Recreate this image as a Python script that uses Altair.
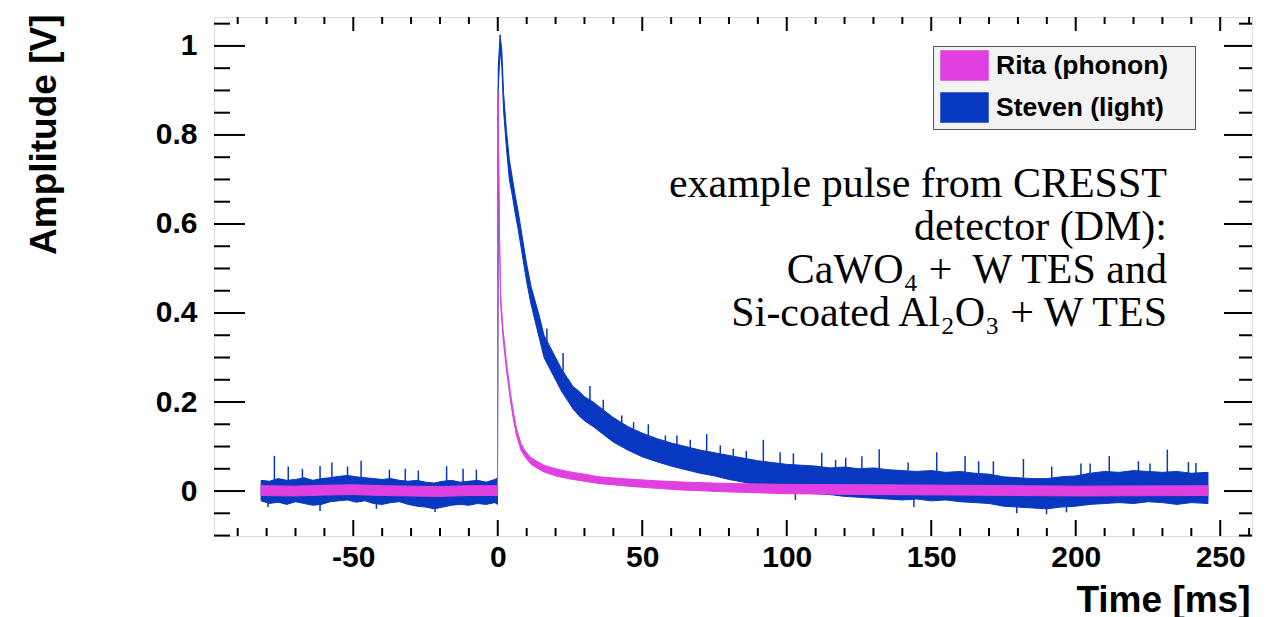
import altair as alt
import pandas as pd

# ---------------- data ----------------
series_names = ["Rita (phonon)", "Steven (light)"]
series_colors = ["#e040e0", "#0838c0"]

# Steven (light): noise envelope (lower / upper) vs time [ms]
steven_t = [-81.9, -79, -76, -73, -70, -67, -64, -61, -58, -55, -52, -49, -46, -43, -40,
            -37, -34, -31, -28, -25, -22, -19, -16, -13, -10, -7, -4, -1, -0.1,
            0.15, 0.8, 1.4, 2.0, 3.0, 4.0, 5.0, 6.0, 7.0, 8.5, 10.0, 11.5, 13.0, 14.5,
            16.0, 18.0, 20.0, 22.0, 24.0, 26.0, 28.0, 30.0, 33.0, 36.0, 40.0, 45.0,
            50.0, 55.0, 60.0, 65.0, 70.0, 75.0, 80.0, 85.0, 90.0, 95.0, 100, 105, 110,
            115, 120, 125, 130, 135, 140, 145, 150, 155, 160, 165, 170, 175, 180, 185,
            190, 195, 200, 205, 210, 215, 220, 225, 230, 235, 240, 245.76]
steven_lo = [-0.022, -0.028, -0.025, -0.03, -0.024, -0.028, -0.032, -0.03, -0.024, -0.022,
             -0.02, -0.025, -0.022, -0.028, -0.03, -0.026, -0.024, -0.03, -0.034, -0.036,
             -0.04, -0.036, -0.032, -0.03, -0.032, -0.028, -0.03, -0.026, -0.03,
             0.90, 0.99, 0.955, 0.855, 0.77, 0.70, 0.665, 0.625, 0.59, 0.53, 0.47, 0.42,
             0.38, 0.34, 0.30, 0.275, 0.25, 0.225, 0.205, 0.185, 0.17, 0.158, 0.145,
             0.13, 0.11, 0.092, 0.077, 0.066, 0.056, 0.048, 0.04, 0.034, 0.026, 0.02,
             0.014, 0.008, 0.0, -0.004, -0.006, -0.008, -0.012, -0.014, -0.016, -0.018,
             -0.02, -0.018, -0.022, -0.02, -0.024, -0.026, -0.028, -0.034, -0.036,
             -0.038, -0.04, -0.036, -0.034, -0.03, -0.028, -0.026, -0.028, -0.024,
             -0.026, -0.03, -0.026, -0.028]
steven_hi = [0.024, 0.022, 0.028, 0.024, 0.026, 0.03, 0.024, 0.028, 0.03, 0.033, 0.035,
             0.032, 0.03, 0.028, 0.026, 0.028, 0.024, 0.022, 0.024, 0.02, 0.018, 0.022,
             0.024, 0.02, 0.022, 0.024, 0.02, 0.026, 0.03,
             0.95, 1.025, 0.99, 0.895, 0.81, 0.745, 0.705, 0.665, 0.63, 0.57, 0.51, 0.46,
             0.425, 0.39, 0.35, 0.325, 0.30, 0.275, 0.255, 0.235, 0.225, 0.212, 0.20,
             0.185, 0.165, 0.145, 0.13, 0.118, 0.108, 0.10, 0.092, 0.086, 0.08, 0.074,
             0.068, 0.064, 0.06, 0.058, 0.056, 0.052, 0.054, 0.05, 0.052, 0.048, 0.046,
             0.044, 0.046, 0.042, 0.044, 0.04, 0.038, 0.032, 0.03, 0.028, 0.028, 0.032,
             0.034, 0.04, 0.044, 0.042, 0.046, 0.044, 0.042, 0.044, 0.04, 0.042]

# Steven (light): single noise spikes (time, lower end, upper end)
spike_t = [-77.3, -72.5, -67.6, -61.5, -57.4, -52.0, -47.3, -37.5, -32.0, -27.5, -17.7,
           -12.0, -7.4, 17.0, 22.6, 31.9, 36.5, 42.9, 47.0, 52.1, 58.0, 62.0, 66.6, 72.3,
           77.0, 81.5, 86.0, 91.9, 97.7, 102.3, 112.1, 116.9, 120.4, 126.0, 132.0, 142.0,
           151.9, 161.7, 166.4, 171.5, 181.9, 191.7, 201.8, 205.0, 211.6, 221.7, 225.7,
           231.7, 239.0, 241.6,
           -79.5, -61.5, -42.0, -21.7, 103.0, 144.0, 179.6, 189.9, 196.8]
spike_lo = [0.02, 0.022, 0.025, 0.025, 0.028, 0.03, 0.03, 0.026, 0.022, 0.022, 0.02,
            0.018, 0.022, 0.33, 0.27, 0.20, 0.18, 0.15, 0.14, 0.125, 0.11, 0.104, 0.096,
            0.09, 0.084, 0.078, 0.072, 0.066, 0.062, 0.058, 0.054, 0.052, 0.054, 0.05, 0.05,
            0.046, 0.044, 0.042, 0.04, 0.036, 0.03, 0.028, 0.036, 0.04, 0.044, 0.045, 0.044,
            0.042, 0.04, 0.04,
            -0.036, -0.045, -0.04, -0.047, -0.02, -0.036, -0.05, -0.052, -0.048]
spike_hi = [0.079, 0.055, 0.05, 0.056, 0.064, 0.055, 0.068, 0.048, 0.05, 0.046, 0.056,
            0.05, 0.048, 0.365, 0.31, 0.236, 0.205, 0.17, 0.155, 0.15, 0.125, 0.125, 0.115,
            0.128, 0.103, 0.095, 0.09, 0.115, 0.087, 0.085, 0.086, 0.07, 0.075, 0.078, 0.094,
            0.064, 0.087, 0.079, 0.067, 0.067, 0.072, 0.055, 0.062, 0.062, 0.079, 0.067, 0.062,
            0.093, 0.065, 0.063,
            -0.026, -0.028, -0.026, -0.038, 0.0, -0.018, -0.034, -0.038, -0.035]

# Rita (phonon): noise envelope
rita_t = [-81.9, -70, -60, -50, -40, -30, -20, -10, -0.1, 0.05, 0.3, 0.6, 1.0, 1.8, 3.0,
          4.5, 5.5, 6.5, 8.0, 9.5, 11.5, 13.5, 16.0, 20.0, 25.0, 30.0, 35.0, 45.0, 55.0,
          65.0, 80.0, 100, 130, 160, 200, 245.76]
rita_lo = [-0.01, -0.011, -0.009, -0.008, -0.01, -0.011, -0.012, -0.01, -0.01, 0.885, 0.74,
           0.56, 0.42, 0.345, 0.272, 0.198, 0.158, 0.125, 0.092, 0.076, 0.06, 0.052, 0.043,
           0.034, 0.027, 0.022, 0.017, 0.011, 0.006, 0.002, -0.002, -0.006, -0.008, -0.009,
           -0.011, -0.01]
rita_hi = [0.012, 0.011, 0.013, 0.014, 0.012, 0.011, 0.01, 0.012, 0.012, 0.90, 0.76, 0.58,
           0.44, 0.365, 0.29, 0.215, 0.175, 0.14, 0.107, 0.09, 0.075, 0.067, 0.058, 0.05,
           0.043, 0.038, 0.032, 0.027, 0.023, 0.02, 0.017, 0.015, 0.014, 0.013, 0.011, 0.012]

x_major = [-50, 0, 50, 100, 150, 200, 250]
x_minor = [-90, -80, -70, -60, -40, -30, -20, -10, 10, 20, 30, 40, 60, 70, 80, 90, 110, 120,
           130, 140, 160, 170, 180, 190, 210, 220, 230, 240, 260]
y_major = [0, 0.2, 0.4, 0.6, 0.8, 1.0]
y_minor = [-0.1, -0.05, 0.05, 0.1, 0.15, 0.25, 0.3, 0.35, 0.45, 0.5, 0.55, 0.65, 0.7, 0.75,
           0.85, 0.9, 0.95, 1.05]

annotation = ["example pulse from CRESST", "detector (DM):", "CaWO\u2084 +\u00a0 W TES and",
              "Si-coated Al\u2082O\u2083 + W TES"]

# ---------------- chart ----------------
W, H = 1038, 519
xs = alt.Scale(domain=[-98.2, 261], nice=False, zero=False)
ys = alt.Scale(domain=[-0.101, 1.065], nice=False, zero=False)
cs = alt.Scale(domain=series_names, range=series_colors)

df_s = pd.DataFrame({"t": steven_t, "lo": steven_lo, "hi": steven_hi, "series": series_names[1]})
df_r = pd.DataFrame({"t": rita_t, "lo": rita_lo, "hi": rita_hi, "series": series_names[0]})
df_sp = pd.DataFrame({"t": spike_t, "lo": spike_lo, "hi": spike_hi, "series": series_names[1]})

SANS = "Liberation Sans"

legend = alt.Legend(
    title=None, orient="none", legendX=719, legendY=29,
    fillColor="#f2f2f2", strokeColor="#555555", padding=4,
    symbolType="M-1.62,-1H1.62V1H-1.62Z", symbolSize=841, symbolOffset=12,
    symbolStrokeColor="#333333", symbolStrokeWidth=1.5, symbolOpacity=1,
    labelFont=SANS, labelFontSize=26.5, labelFontWeight="bold", labelColor="black",
    labelOffset=16, rowPadding=7, labelLimit=400,
    labelExpr="datum.label + '\u00a0\u00a0\u00a0\u200b'",
)

xaxis = alt.Axis(
    values=x_major, ticks=False, domain=False, grid=False,
    labelFont=SANS, labelFontSize=30, labelFontWeight="bold", labelColor="black",
    labelPadding=6, labelExpr="'' + datum.value", labelFlush=False,
    title="Time [ms]", titleFont=SANS, titleFontSize=37, titleFontWeight="bold",
    titleColor="black", titleX=W - 2, titleY=75, titleAlign="right",
    titleBaseline="alphabetic", titleAnchor="end",
)
yaxis = alt.Axis(
    values=y_major, ticks=False, domain=False, grid=False,
    labelFont=SANS, labelFontSize=30, labelFontWeight="bold", labelColor="black",
    labelPadding=17, format="~g", labelFlush=False,
    title="Amplitude [V]", titleFont=SANS, titleFontSize=37, titleFontWeight="bold",
    titleColor="black", titleAngle=270, titleX=-159, titleY=-3, titleAlign="right",
    titleBaseline="alphabetic", titleAnchor="end",
)

X = lambda f: alt.X(f, scale=xs, axis=xaxis)
Y = lambda f: alt.Y(f, scale=ys, axis=yaxis)

steven = alt.Chart(df_s).mark_area(clip=True, strokeWidth=1, opacity=1).encode(
    x=X("t:Q"), y=Y("lo:Q"), y2="hi:Q",
    color=alt.Color("series:N", scale=cs, legend=legend),
    stroke=alt.Stroke("series:N", scale=cs, legend=None),
)
spikes = alt.Chart(df_sp).mark_rule(clip=True, strokeWidth=1.5).encode(
    x=X("t:Q"), y=Y("lo:Q"), y2="hi:Q",
    color=alt.Color("series:N", scale=cs, legend=legend),
)
rita = alt.Chart(df_r).mark_area(clip=True, strokeWidth=1, opacity=1).encode(
    x=X("t:Q"), y=Y("lo:Q"), y2="hi:Q",
    color=alt.Color("series:N", scale=cs, legend=legend),
    stroke=alt.Stroke("series:N", scale=cs, legend=None),
)

def xticks(vals, top_len, bot_len):
    d = pd.DataFrame({"v": vals})
    base = alt.Chart(d).mark_rule(color="black", strokeWidth=2)
    b = base.encode(x=X("v:Q"), y=alt.value(H), y2=alt.value(H - bot_len))
    t = base.encode(x=X("v:Q"), y=alt.value(0), y2=alt.value(top_len))
    return [b, t]

def yticks(vals, left_len, right_len):
    d = pd.DataFrame({"v": vals})
    base = alt.Chart(d).mark_rule(color="black", strokeWidth=2)
    l = base.encode(y=Y("v:Q"), x=alt.value(0), x2=alt.value(left_len))
    r = base.encode(y=Y("v:Q"), x=alt.value(W), x2=alt.value(W - right_len))
    return [l, r]

tick_layers = xticks(x_major, 14, 16) + xticks(x_minor, 7, 8) + \
    yticks(y_major, 31, 28) + yticks(y_minor, 16, 13)

text = alt.Chart(pd.DataFrame({"k": [0]})).mark_text(
    text=annotation, align="right", baseline="alphabetic", font="Liberation Serif",
    fontSize=42, lineHeight=43, color="black",
).encode(x=alt.value(1167 - 214), y=alt.value(197 - 17))

chart = alt.layer(steven, spikes, rita, *tick_layers, text).properties(
    width=W, height=H,
    autosize=alt.AutoSizeParams(type="none"),
    padding={"left": 206, "top": 9, "right": 10, "bottom": 82},
    background="white",
).configure_view(stroke="black", strokeWidth=2).configure(font=SANS)

chart.save("out.html", embed_options={"renderer": "svg", "actions": False})
